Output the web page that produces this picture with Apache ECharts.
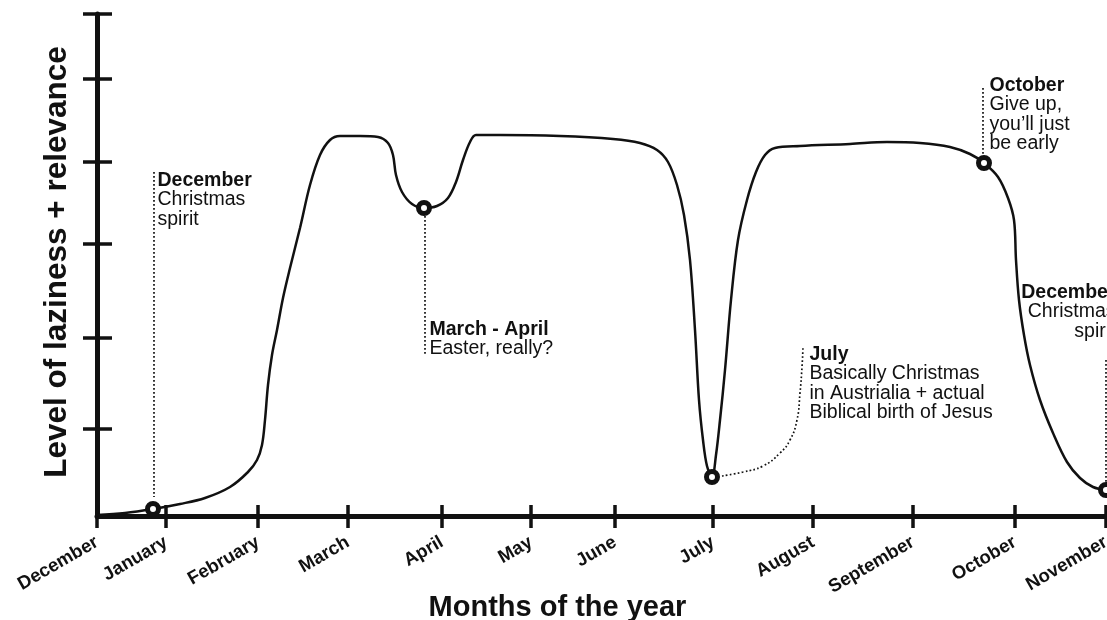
<!DOCTYPE html>
<html>
<head>
<meta charset="utf-8">
<script src="https://cdn.jsdelivr.net/npm/echarts@6/dist/echarts.min.js"></script>
<style>
html, body { margin: 0; padding: 0; background: #fff; }
#grafiek { width: 1107px; height: 620px; }
</style>
</head>
<body>
<div id="grafiek"></div>
<script>
// maanden op de (ongelijk getekende) as, in tijdlijn-eenheden
const maanden = ['December', 'January', 'February', 'March', 'April', 'May', 'June', 'July', 'August', 'September', 'October', 'November'];
const maandPos = [0, 69, 161, 251, 345, 434, 518, 616, 716, 816, 918, 1009];
const niveauTicks = [87, 178, 272, 354, 437, 502];

// luiheid + relevantie door het jaar heen
const curve = [
    [0, 1], [28, 3], [56, 7], [83, 12], [108, 18], [133, 29], [151, 44], [160, 56], [165, 71],
    [168, 96], [171, 131], [175, 161], [180, 186], [186, 218], [193, 248], [203, 288], [213, 331],
    [223, 361], [233, 376], [243, 380], [263, 380], [281, 379], [291, 373], [296, 361], [299, 341],
    [305, 324], [315, 312], [327, 308], [340, 310], [351, 318], [359, 334], [366, 356], [373, 374],
    [379, 381], [403, 381], [463, 380], [516, 377], [543, 373], [560, 366], [571, 354], [580, 331],
    [587, 301], [593, 256], [598, 186], [602, 116], [606, 76], [610, 50], [615, 39], [619, 61],
    [623, 96], [628, 146], [634, 216], [641, 276], [650, 316], [659, 344], [668, 361], [678, 368],
    [703, 370], [753, 372], [790, 374], [823, 373], [853, 369], [873, 362], [887, 353], [901, 339],
    [911, 318], [917, 296], [919, 256], [922, 216], [927, 181], [933, 151], [943, 116], [956, 83],
    [970, 54], [983, 38], [996, 29], [1009, 26]
];
const highlights = [[56, 7], [327, 308], [615, 39], [887, 353], [1009, 26]];

// notities bij de grafiek
const noteTitels = ['December', 'March - April', 'July', 'October', 'December'];
const noteTeksten = [
    ['Christmas', 'spirit'],
    ['Easter, really?'],
    ['Basically Christmas', 'in Austrialia + actual', 'Biblical birth of Jesus'],
    ['Give up,', 'you\u2019ll just', 'be early'],
    ['Christmas', 'spirit']
];
const noteAnkers = [[57, 345], [328, 196], [706, 171], [886, 440], [1009, 233]];
const noteLijnen = [
    [[57, 344], [57, 19]],
    [[328, 300], [328, 161]],
    [[625, 40], [646, 44], [666, 50], [683, 63], [693, 76], [700, 96], [703, 123], [705, 149], [706, 169]],
    [[886, 428], [886, 359]],
    [[1009, 156], [1009, 34]]
];

const zwart = '#111';
const font = '"Liberation Sans", Arial, Helvetica, sans-serif';

function toonGrafiek() {
    let grafiek = echarts.init(document.getElementById('grafiek'));

    let series = [];
    // stippellijnen naar de notities
    noteLijnen.forEach((lijn, i) => {
        series.push({
            type: 'line',
            data: lijn,
            smooth: i === 2 ? 0.5 : false,
            showSymbol: false,
            silent: true,
            clip: false,
            lineStyle: { color: '#111', width: 1.7, type: [1.7, 2.3], opacity: 1 },
            z: 2
        });
    });
    series.push({
        type: 'line',
        data: curve,
        smooth: 0.35,
        showSymbol: false,
        clip: false,
        lineStyle: { color: zwart, width: 2.5, opacity: 1 },
        z: 3
    });
    series.push({
        type: 'scatter',
        data: highlights,
        symbol: 'circle',
        symbolSize: 11,
        clip: false,
        itemStyle: { color: '#fff', borderColor: zwart, borderWidth: 5, opacity: 1 },
        z: 5
    });
    // teksten
    series.push({
        type: 'scatter',
        symbolSize: 1,
        clip: false,
        silent: true,
        itemStyle: { color: 'rgba(0,0,0,0)', opacity: 1 },
        data: noteAnkers.map((a, i) => ({
            value: a,
            label: {
                show: true,
                opacity: 1,
                position: i === 4 ? [10, 0] : [i === 0 ? 4 : (i === 1 ? 5 : 7), 0],
                align: i === 4 ? 'right' : 'left',
                verticalAlign: 'top',
                formatter: '{b|' + noteTitels[i] + '}\n' + noteTeksten[i].map(t => '{n|' + t + '}').join('\n'),
                rich: {
                    b: { fontFamily: font, fontWeight: 'bold', fontSize: 19.5, lineHeight: 19.5, color: zwart },
                    n: { fontFamily: font, fontSize: 19.5, lineHeight: 19.5, color: zwart }
                }
            }
        })),
        z: 6
    });

    let option = {
        backgroundColor: '#fff',
        animation: false,
        grid: { left: 97, right: 1, top: 14, bottom: 104, containLabel: false, outerBoundsMode: 'none' },
        xAxis: [
            {
                type: 'value',
                min: 0,
                max: 1009,
                name: 'Months of the year',
                nameLocation: 'middle',
                nameGap: 77,
                nameMoveOverlap: false,
                nameTextStyle: { fontFamily: font, fontWeight: 'bold', fontSize: 29, color: zwart, padding: [0, 88, 0, 0] },
                axisLine: { show: true, lineStyle: { color: zwart, width: 5 } },
                axisTick: { show: true, length: 12, customValues: maandPos, lineStyle: { color: zwart, width: 3.5 } },
                axisLabel: {
                    show: true,
                    customValues: maandPos,
                    formatter: (v) => maanden[maandPos.indexOf(v)],
                    rotate: 30,
                    margin: 25,
                    fontFamily: font,
                    fontWeight: 'bold',
                    fontSize: 18.5,
                    color: zwart,
                    hideOverlap: false
                },
                splitLine: { show: false }
            },
            {
                type: 'value',
                position: 'bottom',
                min: 0,
                max: 1009,
                axisLine: { show: false },
                axisTick: { show: true, inside: true, length: 11, customValues: maandPos, lineStyle: { color: zwart, width: 3.5 } },
                axisLabel: { show: false },
                splitLine: { show: false }
            }
        ],
        yAxis: [
            {
                type: 'value',
                min: 0,
                max: 502,
                name: 'Level of laziness + relevance',
                nameLocation: 'middle',
                nameGap: 24,
                nameMoveOverlap: false,
                nameTextStyle: { fontFamily: font, fontWeight: 'bold', fontSize: 31.5, color: zwart, padding: [0, 0, 0, 6] },
                axisLine: { show: true, lineStyle: { color: zwart, width: 5 } },
                axisTick: { show: true, length: 14, customValues: niveauTicks, lineStyle: { color: zwart, width: 3.5 } },
                axisLabel: { show: false },
                splitLine: { show: false }
            },
            {
                type: 'value',
                position: 'left',
                min: 0,
                max: 502,
                axisLine: { show: false },
                axisTick: { show: true, inside: true, length: 15, customValues: niveauTicks, lineStyle: { color: zwart, width: 3.5 } },
                axisLabel: { show: false },
                splitLine: { show: false }
            }
        ],
        series: series
    };
    grafiek.setOption(option);
}

window.onload = function () {
    if (document.getElementById('grafiek')) {
        toonGrafiek();
    } else {
        console.error("Element #grafiek niet gevonden!");
    }
};
</script>
</body>
</html>
